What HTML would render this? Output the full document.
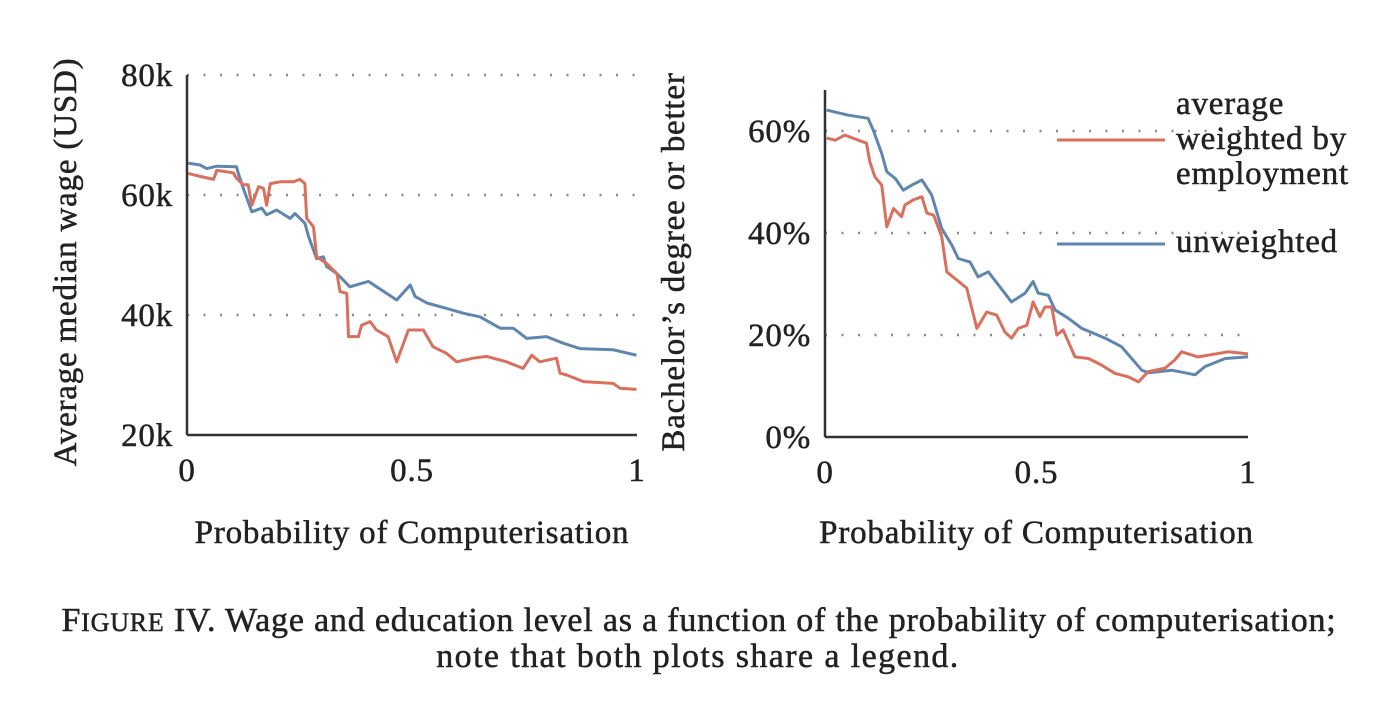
<!DOCTYPE html>
<html><head><meta charset="utf-8"><style>
body{margin:0;background:#fff;width:1400px;height:703px;overflow:hidden}
text{font-family:"Liberation Serif",serif;fill:#222;stroke:#222;stroke-width:0.5;letter-spacing:0.8px}
</style></head><body>
<svg id="fig" width="1400" height="703" viewBox="0 0 1400 703" xmlns="http://www.w3.org/2000/svg">
<g id="left"></g>
<g id="right"></g>
<text x="699" y="631" text-anchor="middle" font-size="34">F<tspan font-size="26">IGURE</tspan> IV. Wage and education level as a function of the probability of computerisation;</text>
<text x="698" y="667" text-anchor="middle" font-size="34" style="letter-spacing:1.4px">note that both plots share a legend.</text>
<line x1="1057" y1="140" x2="1165" y2="140" stroke="#d9705c" stroke-width="3"/>
<line x1="1057" y1="244" x2="1165" y2="244" stroke="#5f86b0" stroke-width="3"/>
<text x="1176" y="114" font-size="33">average</text>
<text x="1176" y="149" font-size="33">weighted by</text>
<text x="1176" y="184" font-size="33">employment</text>
<text x="1176" y="252" font-size="33">unweighted</text>
</svg>
<script>
const wageX = [0.003,0.029,0.044,0.066,0.110,0.114,0.125,0.144,0.166,0.177,0.199,0.229,0.240,0.262,0.270,0.288,0.303,0.310,0.333,0.362,0.403,0.466,0.496,0.507,0.533,0.577,0.614,0.651,0.696,0.725,0.755,0.799,0.836,0.873,0.947,0.999];
const wageUnweighted = [65.3,65.0,64.4,64.8,64.7,63.6,61.1,57.2,57.8,56.7,57.5,56.1,56.9,55.3,53.1,49.4,49.7,48.1,46.9,44.7,45.6,42.5,45.0,43.1,42.0,41.1,40.3,39.7,37.8,37.8,36.1,36.4,35.3,34.4,34.2,33.3];
const wageWX = [0.003,0.029,0.059,0.066,0.103,0.110,0.125,0.136,0.144,0.159,0.170,0.177,0.185,0.207,0.236,0.251,0.262,0.266,0.281,0.288,0.310,0.333,0.340,0.355,0.359,0.381,0.388,0.407,0.421,0.447,0.466,0.492,0.525,0.547,0.577,0.599,0.636,0.666,0.710,0.747,0.766,0.784,0.821,0.829,0.844,0.881,0.947,0.962,0.999];
const wageWeighted = [63.6,63.1,62.6,64.1,63.7,62.8,61.7,61.7,58.3,61.4,61.1,58.3,61.9,62.2,62.2,62.6,61.9,56.1,54.7,49.7,48.6,46.9,43.9,43.6,36.4,36.4,38.3,38.9,37.5,36.4,32.2,37.5,37.5,34.7,33.6,32.2,32.8,33.1,32.2,31.1,33.3,32.2,32.8,30.3,30.0,28.9,28.6,27.8,27.6];
const wageTicks = [20,40,60,80];
const wageTickLabels = ["20k","40k","60k","80k"];
const eduX = [0.004,0.055,0.102,0.114,0.134,0.146,0.166,0.185,0.205,0.229,0.252,0.276,0.300,0.315,0.343,0.362,0.386,0.441,0.473,0.492,0.504,0.528,0.544,0.575,0.607,0.662,0.701,0.749,0.764,0.820,0.875,0.898,0.946,1.0];
const eduUnweighted = [64.1,63.1,62.5,60.2,55.6,52.0,50.7,48.4,49.4,50.4,47.5,40.9,37.6,35.0,34.3,31.4,32.4,26.5,28.2,30.5,28.2,27.8,24.9,23.3,21.3,19.4,17.7,13.1,12.6,13.1,12.2,13.8,15.4,15.7];
const eduWX = [0.004,0.024,0.047,0.098,0.106,0.118,0.134,0.146,0.162,0.181,0.189,0.209,0.229,0.241,0.257,0.276,0.288,0.307,0.335,0.359,0.382,0.406,0.425,0.441,0.457,0.477,0.492,0.508,0.520,0.536,0.548,0.563,0.591,0.623,0.654,0.685,0.717,0.741,0.764,0.804,0.827,0.843,0.882,0.953,1.0];
const eduWeighted = [58.6,58.2,59.2,57.6,54.0,51.0,49.4,41.2,44.8,43.2,45.5,46.5,47.1,43.9,43.5,39.3,32.4,31.1,29.2,21.3,24.5,23.9,20.6,19.4,21.3,21.9,26.5,23.6,25.5,25.5,20.0,21.0,15.7,15.4,14.1,12.5,11.8,10.8,12.8,13.5,15.1,16.7,15.7,16.7,16.3];
const eduTicks = [0,20,40,60];
const eduTickLabels = ["0%","20%","40%","60%"];
const xTicks = [0,0.5,1];
const xTickLabels = ["0","0.5","1"];

const NS="http://www.w3.org/2000/svg";
function mk(parent,tag,attrs){const e=document.createElementNS(NS,tag);for(const k in attrs)e.setAttribute(k,attrs[k]);parent.appendChild(e);return e;}

function chart(g,cfg){
  const sx=v=>cfg.x0+v*(cfg.x1-cfg.x0);
  const sy=v=>cfg.y0-(v-cfg.vmin)/(cfg.vmax-cfg.vmin)*(cfg.y0-cfg.y1);
  cfg.ticks.forEach((t,i)=>{
    if(cfg.grid.includes(t)){
      const gl=mk(g,'line',{x1:cfg.x0,x2:cfg.gridEnd,y1:sy(t),y2:sy(t),stroke:'#888','stroke-width':2.5,'stroke-dasharray':'2 14.5'});
      
      
    }
    const tl=mk(g,'text',{x:cfg.x0-14,y:sy(t)+11,'text-anchor':'end','font-size':33});
    tl.textContent=cfg.labels[i];
    
    
  });
  xTicks.forEach((t,i)=>{
    const tl=mk(g,'text',{x:sx(t),y:cfg.y0+46,'text-anchor':'middle','font-size':33});
    tl.textContent=xTickLabels[i];
    
    
  });
  const ya=mk(g,'line',{x1:cfg.x0,x2:cfg.x0,y1:cfg.axisTop,y2:cfg.y0,stroke:'#333','stroke-width':2.5});
  
  
  const xa=mk(g,'line',{x1:cfg.x0,x2:cfg.x1,y1:cfg.y0,y2:cfg.y0,stroke:'#333','stroke-width':2.5});
  
  
  cfg.series.forEach(s=>{
    let d='';
    s.x.forEach((xv,i)=>{d+=(i?'L':'M')+sx(xv).toFixed(1)+','+sy(s.y[i]).toFixed(1);});
    const p=mk(g,'path',{d:d,fill:'none',stroke:s.color,'stroke-width':3,'stroke-linejoin':'round'});
    
    
  });
  const xt=mk(g,'text',{x:(cfg.x0+cfg.x1)/2,y:543,'text-anchor':'middle','font-size':33});
  xt.textContent='Probability of Computerisation';
  
  
  const yt=mk(g,'text',{x:0,y:0,'text-anchor':'middle','font-size':33,transform:`translate(${cfg.ytx},${cfg.yty}) rotate(-90)`});
  yt.textContent=cfg.ytitle;
  
  
}
chart(document.getElementById('left'),{x0:187,x1:637,y0:435,y1:75,vmin:20,vmax:80,axisTop:75,ticks:wageTicks,labels:wageTickLabels,grid:[40,60,80],gridEnd:637,
  ytitle:'Average median wage (USD)',ytx:76,yty:262,
  series:[{name:'wage-unweighted-line',x:wageX,y:wageUnweighted,color:'#5f86b0'},{name:'wage-weighted-line',x:wageWX,y:wageWeighted,color:'#d9705c'}]});
chart(document.getElementById('right'),{x0:825,x1:1248,y0:437,y1:131,vmin:0,vmax:60,axisTop:90,ticks:eduTicks,labels:eduTickLabels,grid:[20,40,60],gridEnd:1240,
  ytitle:'Bachelor\u2019s degree or better',ytx:684,yty:262,
  series:[{name:'education-unweighted-line',x:eduX,y:eduUnweighted,color:'#5f86b0'},{name:'education-weighted-line',x:eduWX,y:eduWeighted,color:'#d9705c'}]});
</script>
</body></html>
